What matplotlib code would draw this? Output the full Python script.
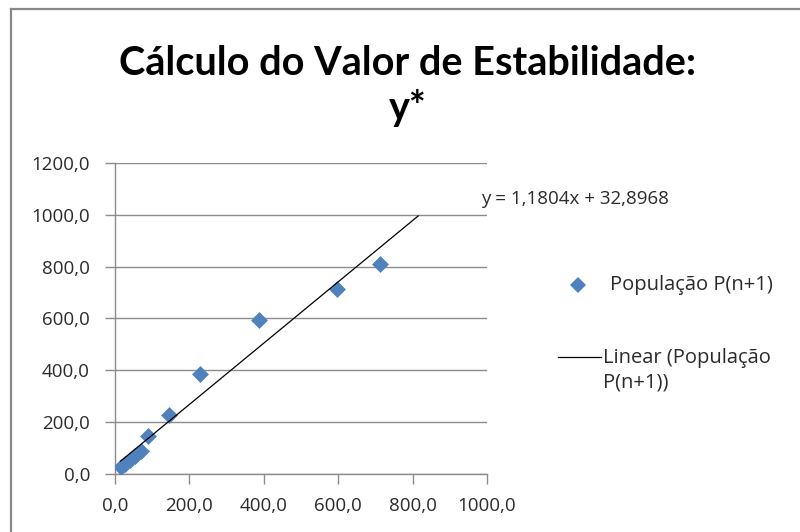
import matplotlib
matplotlib.use('Agg')
import matplotlib.pyplot as plt
from matplotlib.ticker import FuncFormatter, MultipleLocator
from matplotlib.lines import Line2D

plt.rcParams['font.family'] = ['Open Sans', 'DejaVu Sans']

# population at step n (x) and at step n+1 (y)
pop_n = [15, 27, 40, 55, 70, 88, 146, 229, 388, 596, 713]
pop_n1 = [27, 40, 55, 70, 88, 147, 230, 386, 595, 713, 811]

# linear trendline (as reported in the chart)
slope = 1.1804
intercept = 32.8968
trend_x = [15, 815]

title = "Cálculo do Valor de Estabilidade:\ny*"
series_label = "População P(n+1)"
trend_label = "Linear (População\nP(n+1))"

blue = '#4F81BD'
grid_gray = '#8C8C8C'
text_col = '#2b2b2b'


def comma_fmt(v, pos=None):
    return f"{v:.1f}".replace('.', ',')


fig = plt.figure(figsize=(8, 5.32), dpi=100)
fig.patch.set_facecolor('white')

ax = fig.add_axes([0.14375, 0.1085, 0.465, 0.5857])
ax.scatter(pop_n, pop_n1, marker='D', s=8.6 ** 2, color=blue, zorder=3, linewidths=0)
trend_y = [slope * xv + intercept for xv in trend_x]
ax.plot(trend_x, trend_y, color='black', linewidth=0.9, zorder=4)

ax.set_xlim(0, 1000)
ax.set_ylim(0, 1200)
ax.xaxis.set_major_locator(MultipleLocator(200))
ax.yaxis.set_major_locator(MultipleLocator(200))
ax.xaxis.set_major_formatter(FuncFormatter(comma_fmt))
ax.yaxis.set_major_formatter(FuncFormatter(comma_fmt))
ax.grid(axis='y', color=grid_gray, linewidth=1.0)
ax.set_axisbelow(True)
for side in ['top', 'right']:
    ax.spines[side].set_visible(False)
for side in ['left', 'bottom']:
    ax.spines[side].set_color(grid_gray)
    ax.spines[side].set_linewidth(1.0)
ax.tick_params(axis='both', colors=grid_gray, length=7, width=1.0, labelsize=13.5,
               labelcolor=text_col)
ax.tick_params(axis='y', pad=11)
ax.tick_params(axis='x', pad=9)

# equation of the trendline, placed right of the plot area
eq = f"y = {slope:.4f}x + {intercept:.4f}".replace('.', ',')
ax.text(0.983, 0.885, eq, fontsize=13.5, color=text_col, ha='left', va='center',
        transform=ax.transAxes)

# overlay in pixel coordinates for title, legend and chart border
ov = fig.add_axes([0, 0, 1, 1], facecolor='none')
ov.set_xlim(0, 800)
ov.set_ylim(532, 0)
ov.axis('off')

ov.text(408, 86, title, fontsize=28.5, fontweight='bold', ha='center', va='center',
        linespacing=1.2, color='black', family=['Lato', 'DejaVu Sans'])

ov.add_line(Line2D([10.5, 800], [8.5, 8.5], color='#888888', linewidth=1.6))
ov.add_line(Line2D([10.5, 10.5], [8.5, 532], color='#888888', linewidth=1.6))

ov.plot([578], [285], marker='D', markersize=8.0, color=blue, markeredgewidth=0)
ov.text(610, 285, series_label, fontsize=14.5, color=text_col, va='center', ha='left')
ov.add_line(Line2D([558, 601], [357, 357], color='black', linewidth=0.9))
ov.text(603, 370, trend_label, fontsize=14.5, color=text_col, va='center', ha='left',
        linespacing=1.3)

fig.savefig('out.png', dpi=100)
